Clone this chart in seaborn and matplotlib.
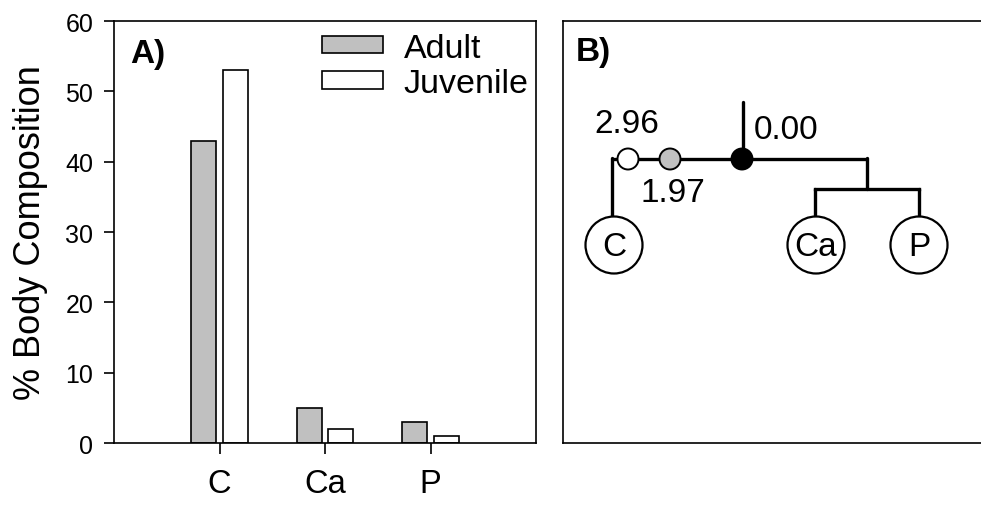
import matplotlib
matplotlib.use("Agg")
import matplotlib.pyplot as plt
from matplotlib.patches import Circle, Patch
import pandas as pd
import seaborn as sns

sns.set_style("ticks")
plt.rcParams['font.family'] = ['Liberation Sans', 'DejaVu Sans']
plt.rcParams['text.color'] = 'black'
plt.rcParams['axes.labelcolor'] = 'black'
plt.rcParams['xtick.color'] = 'black'
plt.rcParams['ytick.color'] = 'black'

# Panel A data
elements = ["C", "Ca", "P"]
adult = [43, 5, 3]
juvenile = [53, 2, 1]
groups = ["Adult", "Juvenile"]
yticks = [0, 10, 20, 30, 40, 50, 60]

# Panel B labels
leaf_labels = ["C", "Ca", "P"]
node_values = ["2.96", "1.97", "0.00"]

df = pd.DataFrame({
    "element": elements * 2,
    "value": adult + juvenile,
    "group": [groups[0]] * 3 + [groups[1]] * 3,
})

fig = plt.figure(figsize=(9.81, 5.06), dpi=100)
axA = fig.add_axes([114 / 981, 1 - 444 / 506, 422 / 981, 422 / 506])
axB = fig.add_axes([563 / 981, 1 - 444 / 506, (992 - 563) / 981, 422 / 506])

# ---- Panel A: bars ----
colors = {"Adult": "#c0c0c0", "Juvenile": "white"}
sns.barplot(data=df, x="element", y="value", hue="group", palette=colors,
            width=0.6, gap=0.2, edgecolor="black", linewidth=1.2,
            ax=axA, legend=False)
axA.set_xlim(-1, 3)
axA.set_ylim(0, 60)
axA.set_yticks(yticks)
axA.set_xlabel("")
axA.set_ylabel("% Body Composition", fontsize=26, labelpad=12)
axA.tick_params(axis="y", labelsize=18, length=7, width=1.2, pad=8)
axA.tick_params(axis="x", labelsize=23.5, length=8, width=1.2, pad=10)
for sp in axA.spines.values():
    sp.set_visible(True)
    sp.set_linewidth(1.2)
    sp.set_color("black")
axA.text(16 / 422, 1 - 32 / 422, "A)", transform=axA.transAxes, fontsize=24,
         fontweight="bold", va="center", ha="left")
handles = [Patch(facecolor=colors[g], edgecolor="black", linewidth=1.2) for g in groups]
axA.legend(handles, groups, loc="upper right", frameon=False, fontsize=24.5,
           handlelength=1.8, handleheight=0.42, handletextpad=0.6,
           labelspacing=0.12, borderaxespad=0.0, borderpad=0.0,
           bbox_to_anchor=(0.983, 0.972))

# ---- Panel B: tree diagram (pixel-like coordinates) ----
axB.set_xlim(563, 992)
axB.set_ylim(444, 22)
axB.set_xticks([])
axB.set_yticks([])
for sp in axB.spines.values():
    sp.set_linewidth(1.2)
    sp.set_color("black")

lw = 2.4
y_main = 160
axB.plot([612, 867], [y_main, y_main], color="black", lw=lw, solid_capstyle="butt", zorder=1)
axB.plot([612, 612], [y_main - 1, 217], color="black", lw=lw, zorder=1)
axB.plot([743, 743], [103, y_main], color="black", lw=lw, zorder=1)
axB.plot([867, 867], [y_main - 1, 190], color="black", lw=lw, zorder=1)
axB.plot([815, 919], [190, 190], color="black", lw=lw, solid_capstyle="projecting", zorder=1)
axB.plot([815, 815], [190, 218], color="black", lw=lw, zorder=1)
axB.plot([919, 919], [190, 218], color="black", lw=lw, zorder=1)

leaf_x = [614, 816, 919]
for lx, lab in zip(leaf_x, leaf_labels):
    axB.add_patch(Circle((lx, 246), 28.5, facecolor="white", edgecolor="black", lw=1.6, zorder=2))
    axB.text(lx, 247, lab, fontsize=24, ha="center", va="center", zorder=3)

node_x = [628, 670, 742]
node_colors = ["white", "#c0c0c0", "black"]
for nx, nc in zip(node_x, node_colors):
    axB.add_patch(Circle((nx, y_main), 10.5, facecolor=nc, edgecolor="black", lw=1.4, zorder=2))

axB.text(627, 124, node_values[0], fontsize=24, ha="center", va="center")
axB.text(673, 193, node_values[1], fontsize=24, ha="center", va="center")
axB.text(754, 130, node_values[2], fontsize=24, ha="left", va="center")
axB.text(576, 52, "B)", fontsize=24, fontweight="bold", ha="left", va="center")

fig.savefig("out.png", dpi=100)
